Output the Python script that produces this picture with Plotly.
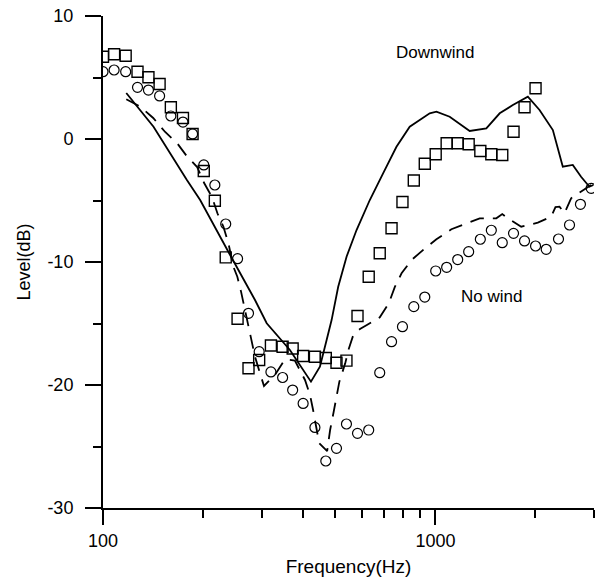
import plotly.graph_objects as go

# ---- data ----
freq = [100, 108, 117, 127, 137, 148, 160, 174, 186, 201, 217, 234, 254, 274, 295,
        320, 347, 372, 400, 434, 468, 504, 540, 583, 630, 680, 738, 796, 861, 929,
        1002, 1081, 1167, 1259, 1365, 1473, 1589, 1718, 1854, 2001, 2154, 2346, 2532,
        2731, 2941]

downwind_meas = [6.69, 6.89, 6.77, 5.47, 5.02, 4.47, 2.58, 1.71, 0.41, -2.60,
                 -5.02, -9.62, -14.61, -18.64, -17.97, -16.79, -16.89, -17.03, -17.64, -17.70,
                 -17.80, -18.19, -18.02, -14.39, -11.20, -9.29, -7.26, -5.12, -3.37, -2.01,
                 -1.24, -0.35, -0.35, -0.43, -0.98, -1.24, -1.30, 0.59, 2.58, 4.12]

nowind_meas = [5.47, 5.61, 5.47, 4.20, 3.98, 3.50, 1.87, 1.38, 0.41, -2.11,
               -3.74, -6.91, -9.73, -14.17, -17.29, -18.94, -19.39, -20.41, -21.50, -23.45,
               -26.18, -25.15, -23.17, -23.93, -23.66, -19.00, -16.48, -15.26, -13.63, -12.85,
               -10.73, -10.43, -9.80, -9.16, -8.15, -7.42, -8.43, -7.67, -8.29, -8.70,
               -8.97, -8.13, -6.99, -5.31, -4.01]

downwind_pred_f = [117.5, 141.9, 178.8, 196, 241.2, 286.6, 310.8, 365, 422.3, 449.3,
                   470.7, 487.2, 510, 540.4, 579.1, 634.8, 696, 763.6, 837, 961.4,
                   1007, 1104, 1268, 1423, 1561, 1710, 1897, 2057, 2256, 2417,
                   2590, 2743, 2906, 2987]
downwind_pred = [3.74, 1.0, -3.33, -4.96, -9.43, -13.09, -14.98, -17.15, -19.73, -18.51,
                 -16.34, -14.72, -12.01, -9.57, -7.40, -4.96, -2.79, -0.63, 1.0, 2.09,
                 2.22, 1.81, 0.65, 0.87, 2.09, 2.76, 3.44, 2.36, 0.73, -2.25,
                 -2.11, -3.07, -3.88, -3.74]

nowind_pred_f = [117.5, 129.4, 141.6, 153.8, 167.2, 179.2, 192, 201.5, 212.8, 220.9,
                 230.3, 238.4, 246.7, 253.6, 260.2, 266.2, 272.5, 280, 286.6, 296.7,
                 305, 317.8, 328.9, 352.6, 377.8, 405.2, 419.5, 428.6, 437.8, 446.9,
                 472.4, 482.2, 493.3, 502.5, 514.1, 535.4, 547.3, 566.4, 593, 622,
                 680.3, 724, 755, 791, 847.5, 922.7, 1007, 1117, 1225, 1359,
                 1525, 1589, 1651, 1812, 2033, 2230, 2297, 2362, 2445, 2560, 2940]
nowind_pred = [3.23, 2.63, 1.71, 0.57, -0.35, -1.44, -2.28, -3.58, -4.72, -6.04,
               -7.13, -8.48, -10.38, -11.20, -12.41, -13.63, -14.98, -16.34, -17.70, -19.05,
               -20.08, -19.59, -19.19, -17.91, -18.02, -19.59, -20.81, -22.03, -23.25, -24.72,
               -25.37, -23.66, -22.30, -21.08, -19.73, -18.24, -17.15, -15.93, -15.45, -15.12,
               -14.50, -13.36, -12.03, -10.92, -9.84, -8.97, -8.15, -7.34, -6.91, -6.45,
               -6.45, -6.10, -6.45, -7.13, -6.80, -6.32, -5.53, -5.50, -6.04, -4.82, -3.74]

x_major = [100, 1000]
x_major_text = ["100", "1000"]
x_minor = [200, 300, 400, 500, 600, 700, 800, 900, 2000, 3000]
y_major = [10, 0, -10, -20, -30]
y_major_text = ["10", "0", "-10", "-20", "-30"]
y_minor = [5, -5, -15, -25]

FONT = "Liberation Sans, Arial, sans-serif"

fig = go.Figure()
fig.add_trace(go.Scatter(x=downwind_pred_f, y=downwind_pred, mode="lines",
                         line=dict(color="black", width=1.8), showlegend=False))
fig.add_trace(go.Scatter(x=nowind_pred_f, y=nowind_pred, mode="lines",
                         line=dict(color="black", width=1.8, dash="14px,9px"), showlegend=False))
fig.add_trace(go.Scatter(x=freq[:len(downwind_meas)], y=downwind_meas, mode="markers",
                         marker=dict(symbol="square-open", size=11, color="black",
                                     line=dict(width=1.4, color="black")), showlegend=False))
fig.add_trace(go.Scatter(x=freq[:len(nowind_meas)], y=nowind_meas, mode="markers",
                         marker=dict(symbol="circle-open", size=10, color="black",
                                     line=dict(width=1.2, color="black")), showlegend=False))

fig.add_annotation(x=3.0, y=7.0, xref="x", yref="y", text="Downwind", showarrow=False,
                   font=dict(family=FONT, size=17, color="black"), xanchor="center", yanchor="middle")
fig.add_annotation(x=3.17, y=-12.8, xref="x", yref="y", text="No wind", showarrow=False,
                   font=dict(family=FONT, size=17, color="black"), xanchor="center", yanchor="middle")

fig.update_xaxes(type="log", range=[2, 3.4771], showline=True, linecolor="black", linewidth=2,
                 tickmode="array", tickvals=x_major, ticktext=x_major_text,
                 ticks="outside", ticklen=15, tickwidth=2, tickcolor="black",
                 minor=dict(tickvals=x_minor, ticks="outside", ticklen=8, tickwidth=1.5, tickcolor="black"),
                 showgrid=False, zeroline=False, mirror=False,
                 tickfont=dict(family=FONT, size=18, color="black"),
                 title=dict(text="Frequency(Hz)", font=dict(family=FONT, size=19, color="black"), standoff=11))
fig.update_yaxes(range=[-30, 10], showline=True, linecolor="black", linewidth=2,
                 tickmode="array", tickvals=y_major, ticktext=y_major_text,
                 ticks="outside", ticklen=16, tickwidth=2, tickcolor="black",
                 minor=dict(tickvals=y_minor, ticks="outside", ticklen=8, tickwidth=1.5, tickcolor="black"),
                 showgrid=False, zeroline=False, mirror=False, ticklabelstandoff=8,
                 tickfont=dict(family=FONT, size=18, color="black"),
                 title=dict(text="Level(dB)", font=dict(family=FONT, size=18, color="black"), standoff=12))

fig.update_layout(width=595, height=577, margin=dict(l=103, r=1, t=16, b=69),
                  plot_bgcolor="white", paper_bgcolor="white")

fig.write_html("out.html")
